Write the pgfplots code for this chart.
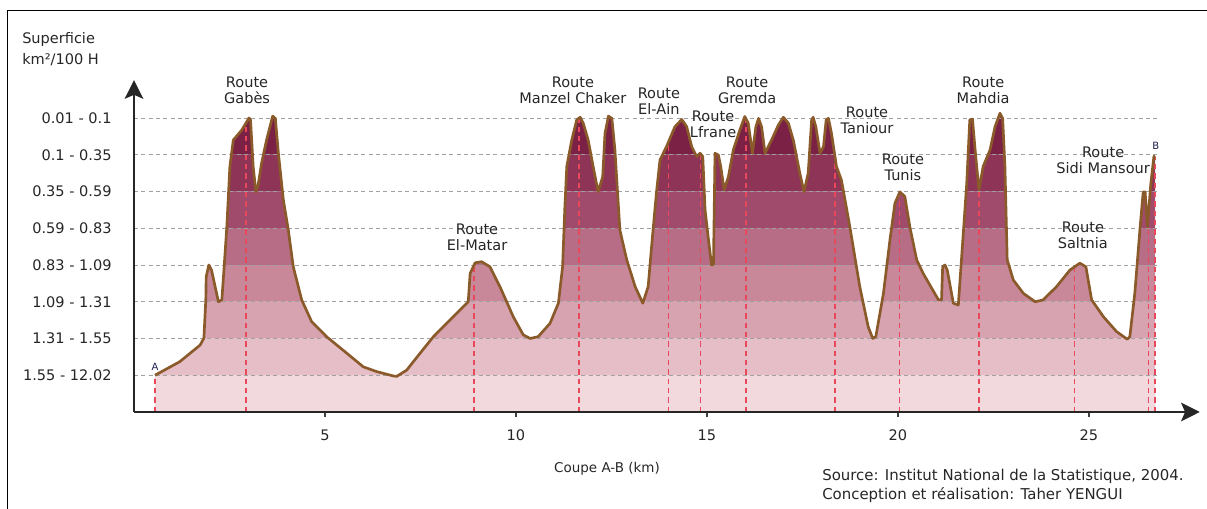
\documentclass[border=0pt]{standalone}
\usepackage{fontspec}
\setmainfont{DejaVu Sans}
\usepackage{pgfplots}
\pgfplotsset{compat=1.18}
\usepackage{pgfplotstable}
\usetikzlibrary{arrows.meta}

\definecolor{bz}{HTML}{F2D9DE}
\definecolor{bo}{HTML}{E6BEC8}
\definecolor{bt}{HTML}{D8A3B1}
\definecolor{bth}{HTML}{C98899}
\definecolor{bf}{HTML}{B66D85}
\definecolor{bfi}{HTML}{A04B6B}
\definecolor{bs}{HTML}{8E3457}
\definecolor{bse}{HTML}{7B2145}
\definecolor{outline}{HTML}{8B5A2B}
\definecolor{redc}{HTML}{E8485A}
\definecolor{gridc}{HTML}{A0A0A0}
\definecolor{txt}{HTML}{262626}

\pgfplotstableread{
x y
0.55 1.00
1.20 1.37
1.73 1.82
1.83 2.01
1.88 3.05
1.89 3.68
1.96 4.00
2.03 3.86
2.21 3.00
2.30 3.05
2.36 3.95
2.43 5.04
2.51 6.68
2.60 7.40
2.82 7.67
3.01 8.00
3.05 7.95
3.12 6.68
3.19 5.99
3.25 6.18
3.34 6.77
3.47 7.40
3.63 8.05
3.70 7.99
3.78 7.04
3.91 5.77
4.04 4.95
4.17 3.95
4.39 3.05
4.65 2.46
5.04 2.05
5.57 1.60
6.00 1.23
6.35 1.10
6.79 0.98
6.88 0.97
7.14 1.14
7.49 1.60
7.84 2.05
8.27 2.50
8.75 3.00
8.80 3.77
8.93 4.06
9.10 4.09
9.32 3.95
9.58 3.41
9.93 2.59
10.19 2.10
10.37 2.00
10.58 2.05
10.89 2.41
11.11 2.96
11.22 3.95
11.28 5.59
11.33 6.68
11.46 7.40
11.59 7.95
11.68 8.02
11.76 7.86
11.89 7.40
12.02 6.68
12.15 5.99
12.27 6.40
12.33 7.58
12.42 8.05
12.51 7.99
12.59 7.13
12.72 4.95
12.90 4.14
13.12 3.41
13.32 2.96
13.46 3.41
13.58 4.86
13.68 6.00
13.77 6.86
13.94 7.22
14.16 7.76
14.34 7.96
14.47 7.76
14.60 7.22
14.73 6.95
14.82 7.04
14.89 6.95
14.95 5.50
15.04 4.68
15.12 4.00
15.17 4.02
15.21 7.04
15.30 6.99
15.36 6.68
15.45 6.04
15.56 6.40
15.69 7.13
15.86 7.67
15.99 8.04
16.08 7.86
16.19 7.04
16.28 7.76
16.35 7.99
16.43 7.76
16.52 7.04
16.69 7.40
16.87 7.81
17.00 8.02
17.13 7.86
17.26 7.40
17.43 6.50
17.54 5.99
17.65 6.50
17.74 7.95
17.78 8.02
17.85 7.76
17.96 7.04
18.05 7.22
18.12 7.95
18.18 7.99
18.26 7.58
18.39 6.68
18.52 6.31
18.74 5.04
19.00 3.41
19.22 2.32
19.34 2.00
19.42 2.05
19.62 3.23
19.79 4.68
19.92 5.68
20.05 5.99
20.18 5.86
20.31 5.04
20.49 4.14
20.66 3.77
21.06 3.05
21.14 3.05
21.17 3.95
21.23 4.00
21.29 3.86
21.45 2.96
21.58 2.91
21.71 4.86
21.80 6.22
21.88 7.95
21.95 7.97
22.02 7.13
22.12 6.04
22.23 6.68
22.41 7.13
22.54 7.76
22.67 8.13
22.74 7.99
22.80 6.68
22.86 4.14
23.02 3.59
23.28 3.23
23.59 3.00
23.80 3.05
24.15 3.41
24.50 3.86
24.76 4.05
24.92 3.95
24.98 3.59
25.07 3.05
25.38 2.59
25.72 2.19
26.00 1.98
26.07 2.05
26.20 3.23
26.34 5.04
26.42 5.99
26.47 5.99
26.53 5.04
26.62 6.22
26.70 6.95
26.73 6.97
}\profile

\tikzset{rl/.style={align=center, font=\fontsize{10.9}{12}\selectfont, text=txt, inner sep=0pt}}

\begin{document}
\begin{tikzpicture}
\useasboundingbox (-100.5pt,-72.75pt) rectangle (804.75pt,309pt);
\begin{axis}[
  at={(0,0)}, anchor=south west, scale only axis,
  width=799.3pt, height=248.9pt,
  xmin=0, xmax=27.9, ymin=0, ymax=9.03,
  clip=false, axis on top,
  axis lines=left,
  axis line style={line width=1.4pt, draw=black!85},
  every outer x axis line/.append style={-{Stealth[length=14pt,width=14pt,inset=3pt]}},
  every outer y axis line/.append style={-{Stealth[length=14pt,width=14pt,inset=3pt]}},
  xtick={5,10,15,20,25},
  ytick={1,2,3,4,5,6,7,8},
  yticklabels={1.55 - 12.02, 1.31 - 1.55, 1.09 - 1.31, 0.83 - 1.09, 0.59 - 0.83, 0.35 - 0.59, 0.1 - 0.35, 0.01 - 0.1},
  tick align=outside,
  major tick length=4pt,
  x tick style={draw=black!75, line width=0.8pt},
  y tick style={draw=none},
  /pgf/number format/assume math mode=true,
  xticklabel style={font=\fontsize{10.9}{12}\selectfont, text=txt, yshift=-6pt},
  yticklabel style={font=\fontsize{10.9}{12}\selectfont, text=txt, xshift=-9.3pt},
]
% bands
\addplot[fill=bz, draw=none] coordinates {(0.55,0) (26.73,0) (26.73,1) (0.55,1) (0.55,0)};
\addplot[fill=bo, draw=none] coordinates {(0.55,1) (26.73,1) (26.73,2) (0.55,2) (0.55,1)};
\addplot[fill=bt, draw=none] coordinates {(0.55,2) (26.73,2) (26.73,3) (0.55,3) (0.55,2)};
\addplot[fill=bth, draw=none] coordinates {(0.55,3) (26.73,3) (26.73,4) (0.55,4) (0.55,3)};
\addplot[fill=bf, draw=none] coordinates {(0.55,4) (26.73,4) (26.73,5) (0.55,5) (0.55,4)};
\addplot[fill=bfi, draw=none] coordinates {(0.55,5) (26.73,5) (26.73,6) (0.55,6) (0.55,5)};
\addplot[fill=bs, draw=none] coordinates {(0.55,6) (26.73,6) (26.73,7) (0.55,7) (0.55,6)};
\addplot[fill=bse, draw=none] coordinates {(0.55,7) (26.73,7) (26.73,8.5) (0.55,8.5) (0.55,7)};
% white above profile
\addplot[fill=white, draw=none] table[x=x, y=y] {\profile} -- (axis cs:26.85,6.97) -- (axis cs:26.85,8.7) -- (axis cs:0.45,8.7) -- (axis cs:0.45,1.0) -- cycle;
% grid lines
\addplot[gridc, dash pattern=on 3pt off 2.5pt, line width=0.6pt] coordinates {(0,1) (26.8,1)};
\addplot[gridc, dash pattern=on 3pt off 2.5pt, line width=0.6pt] coordinates {(0,2) (26.8,2)};
\addplot[gridc, dash pattern=on 3pt off 2.5pt, line width=0.6pt] coordinates {(0,3) (26.8,3)};
\addplot[gridc, dash pattern=on 3pt off 2.5pt, line width=0.6pt] coordinates {(0,4) (26.8,4)};
\addplot[gridc, dash pattern=on 3pt off 2.5pt, line width=0.6pt] coordinates {(0,5) (26.8,5)};
\addplot[gridc, dash pattern=on 3pt off 2.5pt, line width=0.6pt] coordinates {(0,6) (26.8,6)};
\addplot[gridc, dash pattern=on 3pt off 2.5pt, line width=0.6pt] coordinates {(0,7) (26.8,7)};
\addplot[gridc, dash pattern=on 3pt off 2.5pt, line width=0.6pt] coordinates {(0,8) (26.8,8)};
% red route lines
\addplot[redc, dash pattern=on 4pt off 3pt, line width=0.9pt] coordinates {(0.55,0) (0.55,1.0)};
\addplot[redc, dash pattern=on 4pt off 3pt, line width=0.9pt] coordinates {(2.93,0) (2.93,7.8)};
\addplot[redc, dash pattern=on 4pt off 3pt, line width=0.9pt] coordinates {(8.90,0) (8.90,4.0)};
\addplot[redc, dash pattern=on 4pt off 3pt, line width=0.9pt] coordinates {(11.65,0) (11.65,8.0)};
\addplot[redc, dash pattern=on 4pt off 3pt, line width=0.9pt] coordinates {(14.00,0) (14.00,7.35)};
\addplot[redc, dash pattern=on 4pt off 3pt, line width=0.9pt] coordinates {(14.84,0) (14.84,7.0)};
\addplot[redc, dash pattern=on 4pt off 3pt, line width=0.9pt] coordinates {(16.02,0) (16.02,8.0)};
\addplot[redc, dash pattern=on 4pt off 3pt, line width=0.9pt] coordinates {(18.35,0) (18.35,6.9)};
\addplot[redc, dash pattern=on 4pt off 3pt, line width=0.9pt] coordinates {(20.05,0) (20.05,5.95)};
\addplot[redc, dash pattern=on 4pt off 3pt, line width=0.9pt] coordinates {(22.12,0) (22.12,6.0)};
\addplot[redc, dash pattern=on 4pt off 3pt, line width=0.9pt] coordinates {(24.63,0) (24.63,4.0)};
\addplot[redc, dash pattern=on 4pt off 3pt, line width=0.9pt] coordinates {(26.55,0) (26.55,5.5)};
\addplot[redc, dash pattern=on 4pt off 3pt, line width=0.9pt] coordinates {(26.73,0) (26.73,6.95)};
% profile outline
\addplot[outline, line width=2pt, line join=round] table[x=x, y=y] {\profile};
% labels
\node[rl] at (axis cs:2.96,8.76) {Route\\Gabès};
\node[rl] at (axis cs:8.98,4.745) {Route\\El-Matar};
\node[rl] at (axis cs:11.49,8.76) {Route\\Manzel Chaker};
\node[rl] at (axis cs:13.74,8.46) {Route\\El-Ain};
\node[rl] at (axis cs:15.16,7.82) {Route\\Lfrane};
\node[rl] at (axis cs:16.05,8.76) {Route\\Gremda};
\node[rl] at (axis cs:19.19,7.93) {Route\\Taniour};
\node[rl] at (axis cs:20.13,6.67) {Route\\Tunis};
\node[rl] at (axis cs:22.23,8.75) {Route\\Mahdia};
\node[rl] at (axis cs:25.37,6.86) {Route\\Sidi Mansour};
\node[rl] at (axis cs:24.84,4.82) {Route\\Saltnia};
\node[inner sep=0pt, font=\fontsize{7.5}{8}\selectfont, text=txt!80!blue] at (axis cs:0.55,1.22) {A};
\node[inner sep=0pt, font=\fontsize{7.5}{8}\selectfont, text=txt!80!blue] at (axis cs:26.75,7.24) {B};
\end{axis}
\draw[black, line width=0.75pt] (-94.9pt,-72.75pt) -- (-94.9pt,300.75pt) -- (804.75pt,300.75pt);
\node[anchor=west, inner sep=0pt, font=\fontsize{10.9}{12}\selectfont, text=txt] at (-84pt,279.5pt) {Superficie};
\node[anchor=west, inner sep=0pt, font=\fontsize{10.9}{12}\selectfont, text=txt] at (-84pt,264.5pt) {km²/100 H};
\node[inner sep=0pt, font=\fontsize{10.1}{12}\selectfont, text=txt] at (354.75pt,-42.75pt) {Coupe A-B (km)};
\node[anchor=west, inner sep=0pt, font=\fontsize{11.2}{12}\selectfont, text=txt] at (516pt,-48pt) {Source: Institut National de la Statistique, 2004.};
\node[anchor=west, inner sep=0pt, font=\fontsize{11.2}{12}\selectfont, text=txt] at (516pt,-62.25pt) {Conception et réalisation: Taher YENGUI};
\end{tikzpicture}
\end{document}
